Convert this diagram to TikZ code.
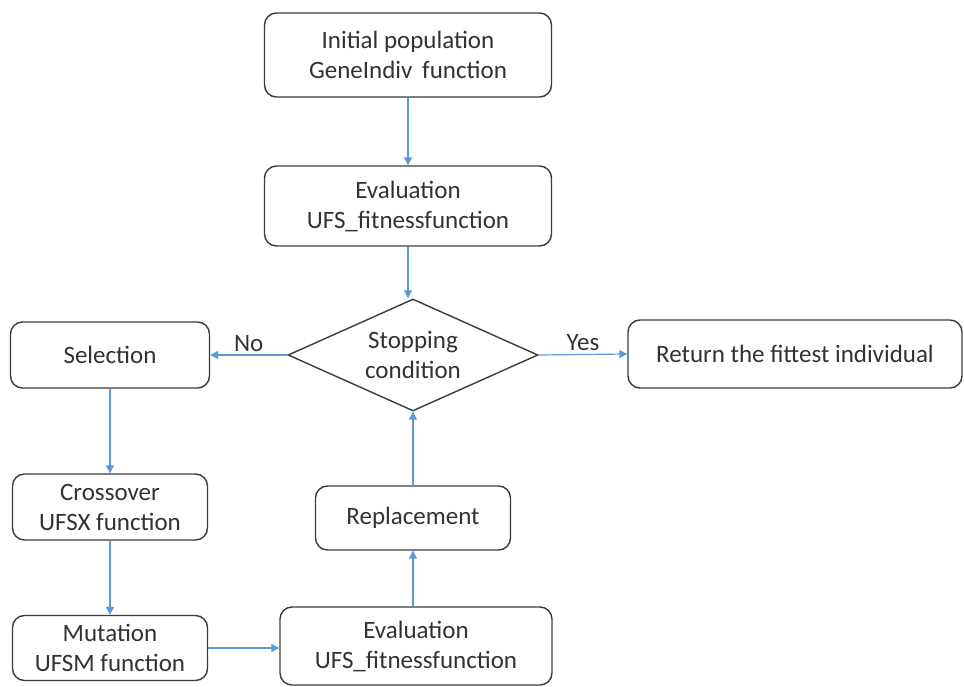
\documentclass[tikz,border=0pt]{standalone}
\usepackage{fontspec}
\setmainfont{Carlito}
\usepackage{tikz}
\usepackage{xcolor}
\usetikzlibrary{shapes, positioning, arrows.meta}

\definecolor{flowblue}{RGB}{91,155,213}
\definecolor{edgegray}{RGB}{60,60,60}
\definecolor{textgray}{RGB}{50,50,50}

\tikzset{
    block/.style={draw=edgegray, line width=1.4pt, rounded corners=12pt, fill=white,
        align=center, inner sep=0pt, text=textgray, font=\fontsize{25}{30}\selectfont},
    decision/.style={diamond, draw=edgegray, line width=1.4pt, fill=white, aspect=2.2,
        align=center, inner sep=0pt, text=textgray, font=\fontsize{25}{30}\selectfont},
    flow/.style={-{Triangle[width=8pt, length=8pt]}, draw=flowblue, line width=1.2pt},
    lbl/.style={text=textgray, font=\fontsize{25}{30}\selectfont, inner sep=3pt}
}

\begin{document}
\begin{tikzpicture}[x=1pt, y=-1pt]
        \useasboundingbox (0, 0) rectangle (964, 687);

        \node[block, minimum width=287, minimum height=84] (init) at (408, 55) {Initial population\\GeneIndiv\, function};
        \node[block, minimum width=287, minimum height=80] (eval1) at (408, 206) {Evaluation\\UFS\_fitnessfunction};
        \node[decision, minimum width=250, minimum height=112] (stop) at (413, 355) {Stopping\\condition};
        \node[block, minimum width=199, minimum height=66] (sel) at (110, 355) {Selection};
        \node[block, minimum width=334, minimum height=68] (ret) at (795, 354) {Return the fittest individual};
        \node[block, minimum width=195, minimum height=66] (cross) at (110, 507) {Crossover\\UFSX function};
        \node[block, minimum width=195, minimum height=65] (mut) at (110, 648) {Mutation\\UFSM function};
        \node[block, minimum width=272, minimum height=78] (eval2) at (416, 646) {Evaluation\\UFS\_fitnessfunction};
        \node[block, minimum width=195, minimum height=64] (repl) at (413, 518) {Replacement};

        \draw[flow] (init) -- (eval1);
        \draw[flow] (eval1.south) -- (eval1.south |- stop.north);
        \draw[flow] (stop.west) -- node[lbl, above] {No} (sel.east);
        \draw[flow] (stop.east) -- node[lbl, above] {Yes} (ret.west);
        \draw[flow] (sel) -- (cross);
        \draw[flow] (cross) -- (mut);
        \draw[flow] (mut.east) -- (mut.east -| eval2.west);
        \draw[flow] (eval2.north -| repl) -- (repl.south);
        \draw[flow] (repl) -- (stop);
    \end{tikzpicture}
\end{document}
